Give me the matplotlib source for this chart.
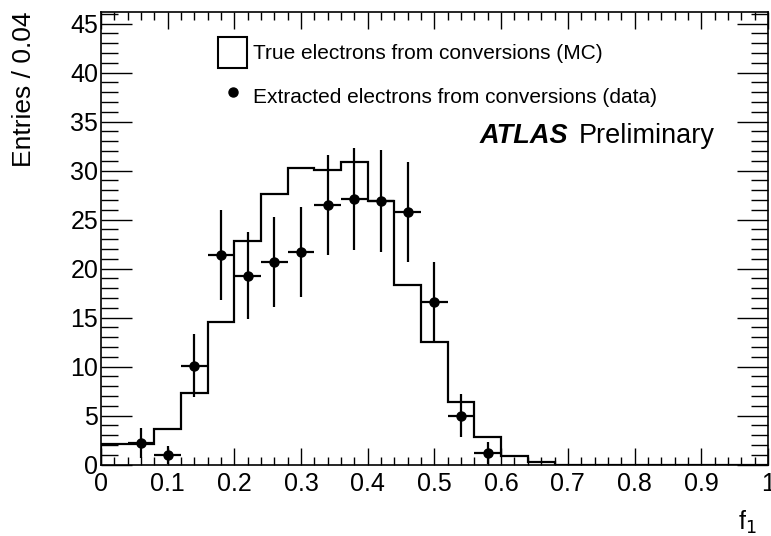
import numpy as np
import matplotlib.pyplot as plt
from matplotlib.patches import Patch
from matplotlib.lines import Line2D
from matplotlib.ticker import MultipleLocator

plt.rcParams['font.family'] = ['Liberation Sans', 'DejaVu Sans']

# MC histogram, bins of 0.04 from 0 to 1
edges = np.linspace(0, 1, 26)
mc_counts = [2.1, 2.1, 3.6, 7.3, 14.6, 22.8, 27.6, 30.3, 30.1, 30.9,
             26.9, 18.3, 12.5, 6.4, 2.8, 0.9, 0.3, 0, 0, 0,
             0, 0, 0, 0, 0]

# extracted electrons (data)
data_x = [0.06, 0.10, 0.14, 0.18, 0.22, 0.26, 0.30, 0.34, 0.38, 0.42,
          0.46, 0.50, 0.54, 0.58]
data_y = [2.2, 1.0, 10.1, 21.4, 19.3, 20.7, 21.7, 26.5, 27.1, 26.9,
          25.8, 16.6, 5.0, 1.2]
data_err = [1.5, 0.9, 3.2, 4.6, 4.4, 4.6, 4.6, 5.1, 5.2, 5.2,
            5.1, 4.1, 2.2, 1.1]
x_err = 0.02

fig = plt.figure(figsize=(7.71, 5.36), dpi=100)
ax = fig.add_axes([0.131, 0.133, 0.865, 0.845])

ax.stairs(mc_counts, edges, color='black', lw=1.6)
ax.errorbar(data_x, data_y, yerr=data_err, xerr=x_err, fmt='o', color='black',
            ms=6.5, elinewidth=1.6, capsize=0)

ax.set_xlim(0, 1)
ax.set_ylim(0, 46.2)
ax.xaxis.set_major_locator(MultipleLocator(0.1))
ax.xaxis.set_minor_locator(MultipleLocator(0.02))
ax.yaxis.set_major_locator(MultipleLocator(5))
ax.yaxis.set_minor_locator(MultipleLocator(1))
ax.set_xticks(np.arange(0, 1.01, 0.1))
ax.set_xticklabels(['0', '0.1', '0.2', '0.3', '0.4', '0.5', '0.6', '0.7', '0.8', '0.9', '1'])
ax.tick_params(which='both', direction='in', top=True, right=True, labelsize=18, width=1)
ax.tick_params(axis='x', which='major', length=12, pad=5)
ax.tick_params(axis='x', which='minor', length=6)
ax.tick_params(axis='y', which='major', length=22, pad=2)
ax.tick_params(axis='y', which='minor', length=12)
for s in ax.spines.values():
    s.set_linewidth(1.2)

fig.text(0.031, 0.978, 'Entries / 0.04', rotation=90, ha='center', va='top', fontsize=19)
fig.text(0.982, 0.0, r'f$_1$', ha='right', va='bottom', fontsize=18)

handles = [Patch(facecolor='white', edgecolor='black', lw=1.5),
           Line2D([], [], marker='o', color='black', ls='none', ms=6.5)]
labels = ['True electrons from conversions (MC)',
          'Extracted electrons from conversions (data)']
ax.legend(handles, labels, loc='upper left', bbox_to_anchor=(0.163, 0.962),
          frameon=False, fontsize=15, handlelength=1.4, handleheight=1.9,
          handletextpad=0.3, labelspacing=0.62, borderaxespad=0)

ax.text(0.568, 0.725, 'ATLAS', transform=ax.transAxes, fontsize=19.5,
        fontweight='bold', fontstyle='italic', va='center', ha='left')
ax.text(0.717, 0.725, 'Preliminary', transform=ax.transAxes, fontsize=19.5,
        va='center', ha='left')

plt.savefig('out.png', dpi=100)
